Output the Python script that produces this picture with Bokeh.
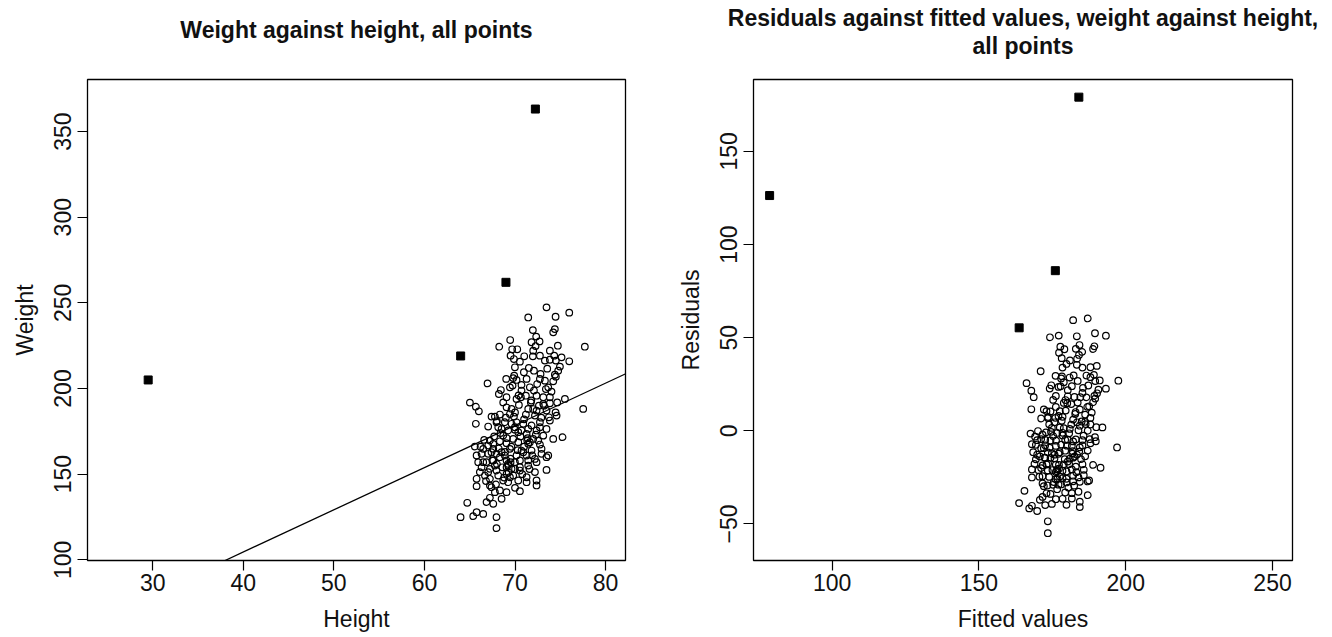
from bokeh.plotting import figure
from bokeh.layouts import row
from bokeh.models import Range1d, FixedTicker, Slope, Title
from bokeh.embed import file_html
from bokeh.resources import INLINE

# ---- data ----
heights = [
    73.48, 71.46, 74.48, 75.99, 71.97, 74.40, 74.22, 72.34, 69.47, 71.83,
    72.71, 68.26, 69.69, 70.25, 72.27, 74.73, 77.71, 69.51, 69.88, 70.54,
    71.02, 71.97, 73.30, 73.85, 74.33, 74.51, 75.99, 74.96, 71.53, 72.09,
    72.82, 73.56, 74.77, 69.91, 70.98, 69.03, 69.80, 70.17, 71.28, 74.40,
    74.51, 66.97, 69.73, 69.44, 70.72, 72.45, 74.22, 68.44, 68.22, 71.64,
    72.09, 73.41, 73.67, 74.03, 70.17, 70.65, 71.20, 72.38, 73.12, 73.85,
    75.51, 65.02, 65.68, 66.01, 69.07, 69.62, 70.43, 71.75, 72.64, 73.12,
    73.85, 74.66, 77.53, 67.41, 67.78, 68.33, 69.44, 69.88, 71.20, 72.20,
    73.74, 74.48, 74.59,
    65.68, 67.04, 67.96, 68.88, 69.62, 70.91, 71.83, 72.75, 73.85, 68.52,
    69.25, 70.36, 71.28, 72.38, 73.12, 74.22, 75.25, 65.57, 67.60, 68.33,
    69.07, 70.36, 71.46, 72.75, 67.60, 69.44, 70.72, 71.83, 72.93, 65.76,
    66.31, 67.04, 67.96, 68.88, 70.17, 71.28, 72.20, 73.67, 65.94, 66.86,
    67.60, 69.07, 69.99, 71.46, 72.38, 66.31, 67.23, 67.78, 69.25, 70.54,
    71.46, 66.12, 67.04, 67.96, 69.07, 70.54, 72.20, 73.48, 65.76, 67.23,
    68.70, 69.44, 69.80, 71.28, 72.38, 65.76, 67.23, 69.25, 72.38, 68.33,
    67.78, 69.07, 70.54, 67.23, 68.52, 66.86, 67.60, 64.73, 65.76, 66.49,
    67.96, 63.99, 65.39, 67.96,
    69.25, 69.51, 69.07, 69.62, 71.35, 71.64, 72.01, 72.56, 67.23, 67.04,
    67.41, 68.33, 68.52, 70.54, 70.91, 66.68, 68.15, 67.41, 70.36, 71.28,
    73.48, 72.93, 69.99, 70.72, 66.49, 68.70, 69.80, 66.49, 68.15, 70.17,
    71.46, 73.48, 72.75, 71.46, 72.38, 73.48, 70.72, 72.75, 73.30, 69.99,
    72.75, 72.01, 73.85, 75.14, 69.07, 68.70,
    67.5, 68.0, 68.6, 69.3, 70.0, 70.8, 71.6, 68.2, 68.9, 69.6,
    70.3, 71.0, 71.9, 67.7, 68.4, 69.1, 70.0, 70.6, 71.4, 72.3,
    68.0, 69.0, 70.0, 71.0, 72.0, 72.9, 73.2, 70.4, 71.8, 69.5,
    66.8, 67.9, 68.8, 70.0, 66.2, 66.6,
]
weights = [
    247.4, 241.5, 241.9, 244.3, 234.1, 234.7, 232.8, 230.3, 228.3, 227.0,
    227.5, 224.4, 222.9, 222.9, 224.8, 225.0, 224.4, 219.2, 217.2, 215.7,
    218.8, 218.8, 216.3, 216.8, 219.2, 216.3, 215.9, 212.8, 212.0, 210.4,
    208.5, 211.6, 210.4, 207.5, 209.5, 205.6, 206.1, 205.0, 205.6, 208.1,
    206.9, 203.0, 201.7, 200.7, 202.1, 202.6, 204.2, 199.1, 196.8, 200.7,
    198.8, 199.7, 200.7, 198.2, 193.9, 194.9, 195.8, 195.8, 194.9, 194.9,
    193.9, 191.8, 189.4, 186.7, 189.0, 188.1, 190.4, 191.9, 190.0, 191.0,
    191.4, 191.9, 188.1, 183.6, 183.6, 184.8, 185.1, 183.6, 184.8, 184.2,
    183.2, 186.1, 184.2,
    179.4, 177.8, 180.3, 180.3, 179.4, 179.4, 178.4, 177.4, 181.3, 176.4,
    175.5, 174.5, 173.5, 175.5, 172.5, 170.6, 171.6, 166.1, 167.7, 169.2,
    168.1, 168.7, 167.7, 167.3, 164.8, 164.8, 163.8, 163.8, 164.8, 160.9,
    161.9, 161.9, 161.9, 160.9, 160.9, 160.9, 158.9, 160.9, 157.0, 157.0,
    158.0, 158.0, 157.0, 158.0, 157.0, 154.1, 153.1, 155.0, 155.0, 154.1,
    155.0, 151.2, 151.2, 152.1, 150.2, 152.1, 151.2, 152.5, 147.3, 147.3,
    146.3, 148.2, 149.2, 148.2, 146.3, 143.0, 143.4, 145.3, 143.4, 140.5,
    139.5, 139.5, 140.1, 136.2, 135.6, 133.7, 132.7, 133.3, 127.8, 126.8,
    124.9, 124.9, 125.5, 118.5,
    156.0, 157.0, 154.1, 153.1, 169.6, 168.7, 170.6, 169.6, 169.6, 166.7,
    162.8, 159.9, 162.8, 158.0, 162.8, 149.2, 149.2, 142.4, 146.3, 145.3,
    159.9, 161.9, 177.4, 175.5, 164.8, 172.5, 170.6, 157.0, 177.4, 180.3,
    176.4, 176.4, 180.3, 188.1, 187.1, 187.1, 198.8, 205.6, 204.6, 212.4,
    219.2, 222.1, 222.1, 218.2, 194.9, 191.9,
    158.0, 156.0, 154.0, 151.0, 153.0, 150.0, 153.0, 165.0, 163.0, 166.0,
    164.0, 166.0, 161.0, 172.0, 174.0, 171.0, 176.0, 172.0, 171.0, 173.0,
    181.0, 183.0, 186.0, 182.0, 188.0, 183.0, 190.0, 196.0, 193.0, 159.0,
    146.0, 144.0, 148.0, 142.0, 166.0, 170.0,
]
# highlighted (unusual) points, drawn as filled squares
out_heights = [29.5, 64.0, 69.0, 72.25]
out_weights = [205.0, 219.0, 262.0, 363.15]

# least-squares line drawn on the left panel
fit_intercept = 6.0
fit_slope = 2.464

left_xticks = [30, 40, 50, 60, 70, 80]
left_yticks = [100, 150, 200, 250, 300, 350]
right_xticks = [100, 150, 200, 250]
right_yticks = [-50, 0, 50, 100, 150]

# fitted values and residuals of the same points
fitted = [fit_intercept + fit_slope * h for h in heights]
resid = [w - f for w, f in zip(weights, fitted)]
out_fitted = [fit_intercept + fit_slope * h for h in out_heights]
out_resid = [w - f for w, f in zip(out_weights, out_fitted)]

FONT = "Liberation Sans"
TXT = "#111111"
FS = "23px"


def style(p, xt, yt, xlabel, ylabel):
    p.outline_line_color = "black"
    p.outline_line_width = 1.3
    p.xgrid.visible = False
    p.ygrid.visible = False
    p.background_fill_color = "white"
    p.border_fill_color = "white"
    for ax in (p.xaxis[0], p.yaxis[0]):
        ax.axis_line_color = None
        ax.major_tick_out = 10
        ax.major_tick_in = 0
        ax.major_tick_line_color = "black"
        ax.major_tick_line_width = 1.2
        ax.minor_tick_line_color = None
        ax.major_label_text_font = FONT
        ax.major_label_text_font_size = FS
        ax.major_label_text_color = TXT
        ax.axis_label_text_font = FONT
        ax.axis_label_text_font_size = FS
        ax.axis_label_text_font_style = "normal"
        ax.axis_label_text_color = TXT
    p.xaxis.ticker = FixedTicker(ticks=xt)
    p.yaxis.ticker = FixedTicker(ticks=yt)
    p.yaxis.major_label_orientation = "vertical"
    p.xaxis.major_label_standoff = 3
    p.yaxis.major_label_standoff = 6
    p.xaxis.axis_label = xlabel
    p.yaxis.axis_label = ylabel
    p.xaxis.axis_label_standoff = 12
    p.yaxis.axis_label_standoff = 14


def title(text, standoff):
    return Title(text=text, align="center", text_font=FONT, text_font_size=FS,
                 text_font_style="bold", text_color=TXT, standoff=standoff)


def spacer(standoff):
    # empty band between the frame and the title block
    return Title(text=" ", text_font_size="8px", standoff=standoff)


FH = 481
# ---- left panel ----
p1 = figure(width=659, height=637, frame_width=538, frame_height=FH,
            min_border_left=87, min_border_right=34, min_border_top=79,
            min_border_bottom=77,
            x_range=Range1d(22.8, 82.2), y_range=Range1d(99.6, 380.4),
            output_backend="svg", toolbar_location=None, tools="")
p1.add_layout(spacer(26), "above")
p1.title = title("Weight against height, all points", 0)
style(p1, left_xticks, left_yticks, "Height", "Weight")
p1.scatter(heights, weights, marker="circle", size=6.6, fill_color=None,
           line_color="black", line_width=1.2)
p1.scatter(out_heights, out_weights, marker="square", size=8,
           fill_color="black", line_color="black")
p1.add_layout(Slope(gradient=fit_slope, y_intercept=fit_intercept,
                    line_color="black", line_width=1.3))

# ---- right panel ----
p2 = figure(width=671, height=637, frame_width=539, frame_height=FH,
            min_border_left=94, min_border_right=38, min_border_top=79,
            min_border_bottom=77,
            x_range=Range1d(73.2, 256.8), y_range=Range1d(-69.6, 188.6),
            output_backend="svg", toolbar_location=None, tools="")
p2.add_layout(spacer(10), "above")
p2.add_layout(title("all points", 0), "above")
p2.title = title("Residuals against fitted values, weight against height,", 0)
style(p2, right_xticks, right_yticks, "Fitted values", "Residuals")
p2.yaxis.major_label_overrides = {-50: "\u221250"}
p2.scatter(fitted, resid, marker="circle", size=6.6, fill_color=None,
           line_color="black", line_width=1.2)
p2.scatter(out_fitted, out_resid, marker="square", size=8,
           fill_color="black", line_color="black")

layout = row(p1, p2)
open("out.html", "w").write(file_html(layout, INLINE))
